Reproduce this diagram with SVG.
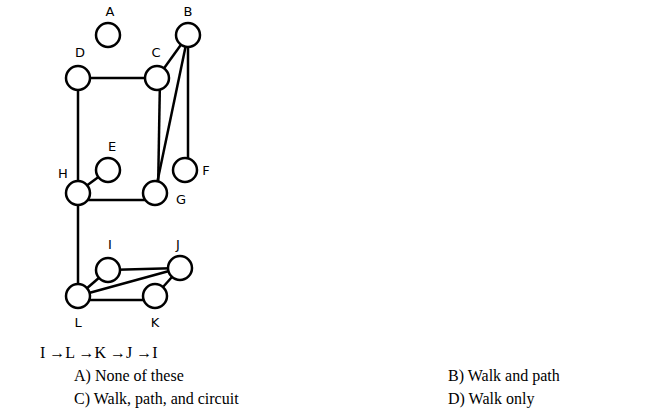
<svg xmlns="http://www.w3.org/2000/svg" width="650" height="410" viewBox="0 0 650 410">
<style>
circle{fill:#fff;stroke:#000;stroke-width:2.5}
.e line{stroke:#000;stroke-width:2.5}
.l{font-family:"DejaVu Sans",sans-serif;font-size:13px;text-anchor:middle}
.t{font-family:"Liberation Serif",serif;font-size:16px}
</style>
<rect width="650" height="410" fill="#fff"/>
<g class="e">
<line x1="78" y1="78" x2="157" y2="78"/>
<line x1="78" y1="78" x2="78" y2="296"/>
<line x1="160" y1="78" x2="158" y2="193"/>
<line x1="157" y1="78" x2="188" y2="35"/>
<line x1="188" y1="35" x2="155" y2="193"/>
<line x1="188" y1="35" x2="188" y2="170"/>
<line x1="78" y1="192" x2="108" y2="170"/>
<line x1="78" y1="200" x2="155" y2="200"/>
<line x1="78" y1="296" x2="108" y2="270"/>
<line x1="108" y1="270" x2="180" y2="268"/>
<line x1="78" y1="296" x2="180" y2="268"/>
<line x1="78" y1="300" x2="155" y2="300"/>
<line x1="155" y1="296" x2="180" y2="268"/>
</g>
<g id="A"><circle cx="108" cy="35" r="12"/><text class="l" x="110" y="16">A</text></g>
<g id="B"><circle cx="188" cy="35" r="12"/><text class="l" x="188" y="16">B</text></g>
<g id="D"><circle cx="78" cy="78" r="12"/><text class="l" x="80" y="57">D</text></g>
<g id="C"><circle cx="157" cy="78" r="12"/><text class="l" x="156" y="57">C</text></g>
<g id="E"><circle cx="108" cy="170" r="12"/><text class="l" x="112" y="151">E</text></g>
<g id="F"><circle cx="185" cy="170" r="12"/><text class="l" x="206" y="175">F</text></g>
<g id="H"><circle cx="78" cy="193" r="12"/><text class="l" x="63" y="178">H</text></g>
<g id="G"><circle cx="155" cy="193" r="12"/><text class="l" x="181" y="204">G</text></g>
<g id="I"><circle cx="108" cy="270" r="12"/><text class="l" x="110" y="249">I</text></g>
<g id="J"><circle cx="180" cy="268" r="12"/><text class="l" x="178" y="249">J</text></g>
<g id="L"><circle cx="78" cy="296" r="12"/><text class="l" x="78" y="327">L</text></g>
<g id="K"><circle cx="155" cy="296" r="12"/><text class="l" x="155" y="327">K</text></g>
<text class="t" x="40" y="358">I →L →K →J →I</text>
<text class="t" x="74" y="381">A) None of these</text>
<text class="t" x="74" y="404">C) Walk, path, and circuit</text>
<text class="t" x="448" y="381">B) Walk and path</text>
<text class="t" x="448" y="404">D) Walk only</text>
</svg>
